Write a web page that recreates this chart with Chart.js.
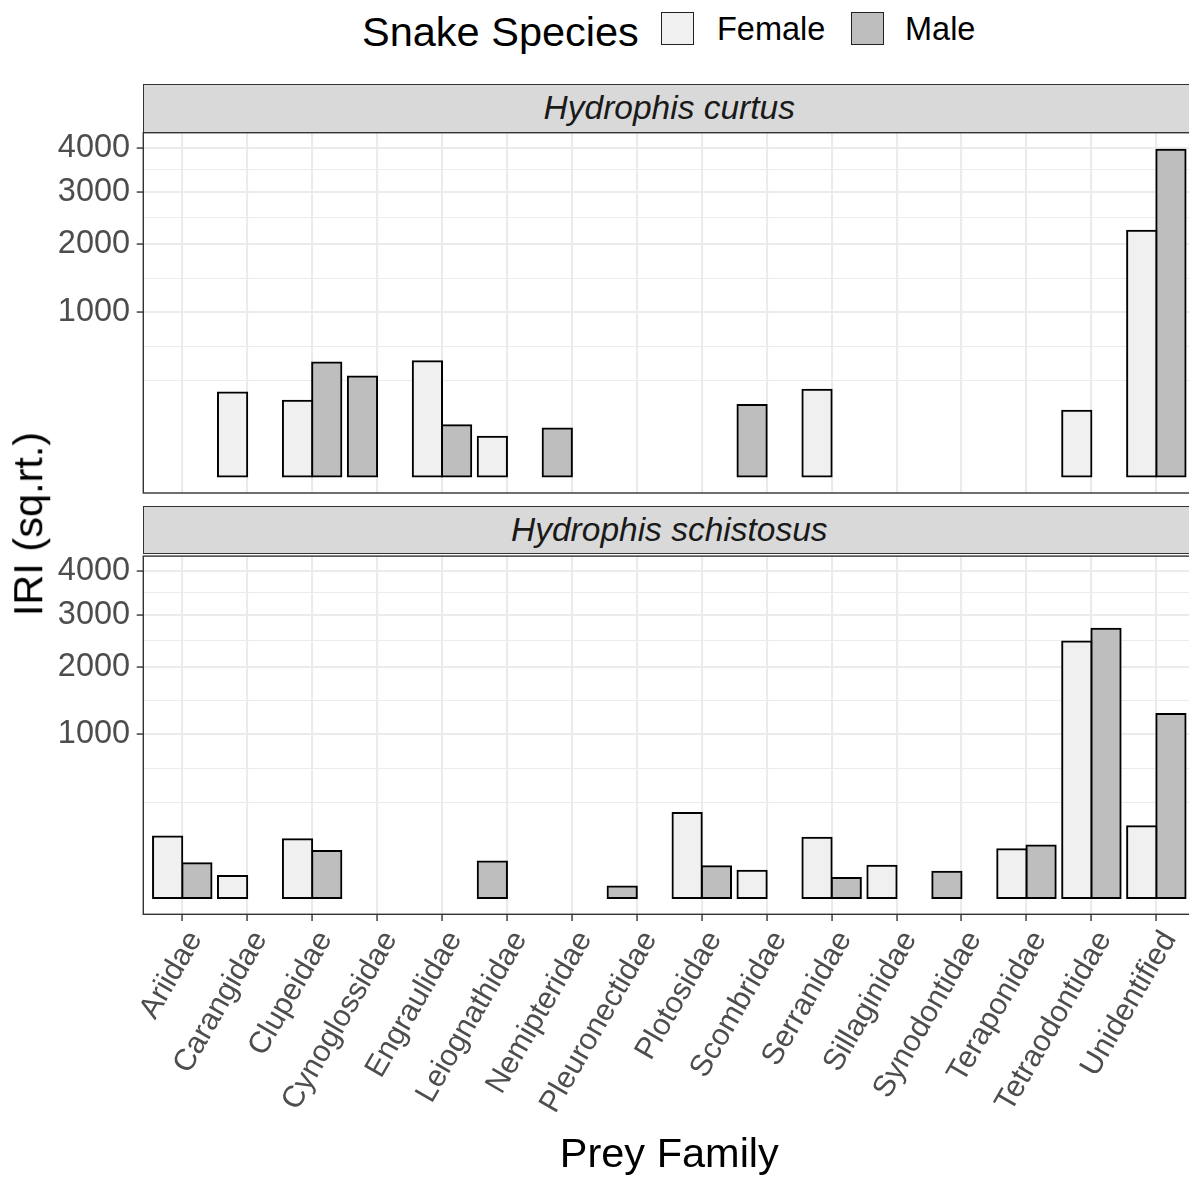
<!DOCTYPE html>
<html lang="en">
<head>
<meta charset="UTF-8">
<title>IRI by prey family</title>
<script src="https://cdn.jsdelivr.net/npm/chart.js"></script>
<style>
  body { margin: 0; background: #fff; font-family: 'Liberation Sans', Arial, sans-serif; }
  #page { position: relative; width: 1189px; height: 1181px; overflow: hidden; background: #fff; }
  canvas { position: absolute; left: 0; }
  .strip {
    position: absolute; left: 143.3px; width: 1052px; height: 48.7px;
    box-sizing: border-box; border: 1.4px solid #333; background: #d9d9d9;
    color: #1a1a1a; font-style: italic; font-size: 33.5px; line-height: 45.9px;
    text-align: center; white-space: nowrap;
  }
  .txt { position: absolute; line-height: 1; white-space: nowrap; color: #000; }
  .key { position: absolute; top: 12px; width: 33px; height: 33px; box-sizing: border-box; border: 1.5px solid #222; }
</style>
</head>
<body>
<div id="page">
  <canvas id="curtus" width="1200" height="423" style="top:100px"></canvas>
  <canvas id="schistosus" width="1200" height="651" style="top:530px"></canvas>

  <div class="strip" style="top:84px">Hydrophis curtus</div>
  <div class="strip" style="top:505.7px">Hydrophis schistosus</div>

  <div class="txt" style="left:362px; top:11px; font-size:41.5px">Snake Species</div>
  <div class="key" style="left:661px; background:#f0f0f0"></div>
  <div class="txt" style="left:717px; top:12.5px; font-size:32.5px">Female</div>
  <div class="key" style="left:851px; background:#bebebe"></div>
  <div class="txt" style="left:905px; top:12.5px; font-size:32.5px">Male</div>

  <div class="txt" style="left:28px; top:523.5px; font-size:41.5px; transform: translate(-50%,-50%) rotate(-90deg)">IRI (sq.rt.)</div>
  <div class="txt" style="left:669.3px; top:1132px; font-size:41.5px; transform: translateX(-50%)">Prey Family</div>
</div>

<script>
// prey families on the x axis
const categories = ['Ariidae', 'Carangidae', 'Clupeidae', 'Cynoglossidae', 'Engraulidae',
  'Leiognathidae', 'Nemipteridae', 'Pleuronectidae', 'Plotosidae', 'Scombridae',
  'Serranidae', 'Sillaginidae', 'Synodontidae', 'Teraponidae', 'Tetraodontidae', 'Unidentified'];

// IRI values, null = not recorded
const curtusFemale = [null, 262, 213, null, 493, 59, null, null, null, null, 279, null, null, null, 160, 2233];
const curtusMale   = [null, null, 481, 371, 98, null, 86, null, null, 189, null, null, null, null, null, 3952];
const schistosusFemale = [141, 18, 129, null, null, null, null, null, 271, 28, 136, 39, null, 89, 2460, 192];
const schistosusMale   = [45, null, 83, null, null, 50, null, 5, 38, null, 15, null, 26, 103, 2714, 1265];

const majorTicks = [1000, 2000, 3000, 4000];
const minorTicks = [343, 629, 1457, 2475, 3482];

const FEMALE_FILL = '#f0f0f0';
const MALE_FILL = '#bebebe';
const Y_MIN = -9.92, Y_MAX = 4373;   // expanded range, square-root space
const FONT = "'Liberation Sans', Arial, sans-serif";

// square-root y scale (signed so the lower expansion can go below zero)
const ssqrt = v => v < 0 ? -Math.sqrt(-v) : Math.sqrt(v);
class SqrtScale extends Chart.LinearScale {
  getPixelForValue(value) {
    const lo = ssqrt(this.min), hi = ssqrt(this.max);
    return this.getPixelForDecimal((ssqrt(value) - lo) / (hi - lo));
  }
  getValueForPixel(pixel) {
    const lo = ssqrt(this.min), hi = ssqrt(this.max);
    const s = lo + this.getDecimalForPixel(pixel) * (hi - lo);
    return s < 0 ? -s * s : s * s;
  }
}
SqrtScale.id = 'sqrt';
SqrtScale.defaults = {};
Chart.register(SqrtScale);

const panelBorder = {
  id: 'panelBorder',
  afterDraw(chart) {
    const { ctx, chartArea: a } = chart;
    ctx.save();
    ctx.strokeStyle = '#333';
    ctx.lineWidth = 1.4;
    ctx.strokeRect(a.left, a.top, a.right - a.left, a.bottom - a.top);
    ctx.restore();
  }
};

// single bars take the left slot (ggplot dodge, preserve = "single")
function slotData(female, male) {
  const left = [], right = [], leftFill = [];
  categories.forEach((c, i) => {
    if (female[i] != null) {
      left.push({ x: i, y: female[i] }); leftFill.push(FEMALE_FILL);
      right.push({ x: i, y: male[i] });
    } else {
      left.push({ x: i, y: male[i] }); leftFill.push(MALE_FILL);
      right.push({ x: i, y: null });
    }
  });
  return [
    { data: left, backgroundColor: leftFill },
    { data: right, backgroundColor: MALE_FILL }
  ];
}

function makePanel(id, female, male, showX, padding, xHeight) {
  const datasets = slotData(female, male).map(d => Object.assign(d, {
    borderColor: '#000', borderWidth: 2, borderSkipped: false, inflateAmount: 1,
    categoryPercentage: 0.9, barPercentage: 1.0
  }));
  return new Chart(document.getElementById(id), {
    type: 'bar',
    data: { datasets },
    plugins: [panelBorder],
    options: {
      responsive: false,
      animation: false,
      devicePixelRatio: 1,
      layout: { padding },
      plugins: { legend: { display: false }, tooltip: { enabled: false } },
      scales: {
        x: {
          type: 'linear', min: -0.6, max: 15.6, bounds: 'data', offset: false,
          afterBuildTicks: axis => { axis.ticks = categories.map((c, i) => ({ value: i })); },
          afterFit: axis => { axis.height = xHeight; },
          ticks: {
            display: showX, autoSkip: false, minRotation: 60, maxRotation: 60,
            padding: 4, labelOffset: 13, color: '#4d4d4d',
            font: { family: FONT, size: 30.5 },
            callback: v => categories[v]
          },
          grid: {
            offset: false, color: '#ebebeb', lineWidth: 2.1,
            drawTicks: showX, tickLength: 6.6, tickColor: '#333', tickWidth: 1.4
          },
          border: { display: false }
        },
        y: {
          type: 'sqrt', min: Y_MIN, max: Y_MAX, bounds: 'data',
          afterBuildTicks: axis => {
            axis.ticks = minorTicks.concat(majorTicks).sort((a, b) => a - b).map(v => ({ value: v }));
          },
          afterFit: axis => { axis.width = 143.3; },
          ticks: {
            autoSkip: false, padding: 6.6, color: '#4d4d4d',
            font: { family: FONT, size: 32.5 },
            callback: v => majorTicks.includes(v) ? String(v) : ''
          },
          grid: {
            color: '#ebebeb',
            lineWidth: ctx => majorTicks.includes(ctx.tick.value) ? 2.1 : 1.1,
            tickLength: 6.6,
            tickWidth: 1.4,
            tickColor: ctx => majorTicks.includes(ctx.tick.value) ? '#333' : 'rgba(0,0,0,0)'
          },
          border: { display: false }
        }
      }
    }
  });
}

makePanel('curtus', curtusFemale, curtusMale, false,
  { top: 32.7, bottom: 30, left: 0, right: 4.7 }, 0);
makePanel('schistosus', schistosusFemale, schistosusMale, true,
  { top: 24.3, bottom: 16.7, left: 0, right: 4.7 }, 250);
</script>
</body>
</html>
